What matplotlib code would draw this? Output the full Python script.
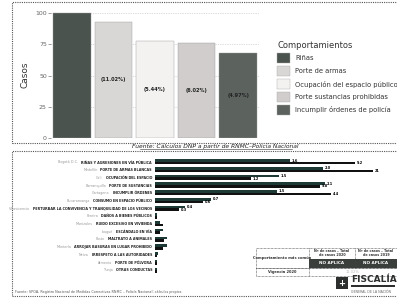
import matplotlib.pyplot as plt
from matplotlib.patches import Rectangle
import numpy as np

# --- upper chart data ---
comportamientos = ['Riñas', 'Porte de armas', 'Ocupación del espacio público',
                   'Porte sustancias prohibidas', 'Incumplir órdenes de policía']
casos = [100, 93, 78, 76, 68]
porcentajes = ['', '(11.02%)', '(5.44%)', '(6.02%)', '(4.97%)']
colores = ['#4b534e', '#d9d7d6', '#f4f2f1', '#d0cdcc', '#5c625e']
yticks = [0, 25, 50, 75, 100]

# --- lower chart data ---
lugares = ['Bogotá D.C.', 'Medellín', 'Cali', 'Barranquilla', 'Cartagena',
           'Bucaramanga', 'Villavicencio', 'Pereira', 'Manizales', 'Ibagué',
           'Pasto', 'Montería', 'Neiva', 'Armenia', 'Tunja']
conductas = ['RIÑAS Y AGRESIONES EN VÍA PÚBLICA', 'PORTE DE ARMAS BLANCAS',
             'OCUPACIÓN DEL ESPACIO', 'PORTE DE SUSTANCIAS',
             'INCUMPLIR ÓRDENES', 'CONSUMO EN ESPACIO PÚBLICO',
             'PERTURBAR LA CONVIVENCIA Y TRANQUILIDAD DE LOS VECINOS',
             'DAÑOS A BIENES PÚBLICOS', 'RUIDO EXCESIVO EN VIVIENDA',
             'ESCÁNDALO EN VÍA', 'MALTRATO A ANIMALES', 'ARROJAR BASURAS EN LUGAR PROHIBIDO',
             'IRRESPETO A LAS AUTORIDADES', 'PORTE DE PÓLVORA', 'OTRAS CONDUCTAS']
serie_a = [135, 168, 124, 170, 122, 56, 30, 2, 5, 8, 12, 12, 3, 2, 2]
serie_b = [200, 218, 96, 165, 176, 48, 24, 2, 8, 5, 9, 8, 2, 2, 2]
etq_a = ['1.6', '2.0', '1.5', '2.1', '1.5', '0.7', '0.4', '', '', '', '', '', '', '', '']
etq_b = ['9.2', '21', '1.2', '9.8', '4.4', '0.6', '0.3', '', '', '', '', '', '', '', '']

W, H = 397, 301
fig = plt.figure(figsize=(W / 100, H / 100), dpi=100)
fig.patch.set_facecolor('white')


def box(x0, y0, x1, y1, **kw):
    fig.patches.append(Rectangle((x0 / W, 1 - y1 / H), (x1 - x0) / W, (y1 - y0) / H,
                                 transform=fig.transFigure, fill=False, **kw))


def fx(x):
    return x / W


def fy(y):
    return 1 - y / H


# outer frames
box(12, 2, 398, 143, lw=0.8, ls=(0, (1, 1)), ec='#555555')
box(12, 151, 398, 296, lw=0.8, ls=(0, (1, 1)), ec='#555555')

# ---------------- upper chart ----------------
ax = fig.add_axes([fx(51), fy(138), fx(259) - fx(51), fy(12) - fy(138)])
x = np.arange(len(casos))
ax.bar(x, casos, width=0.9, color=colores, edgecolor='#9a9a9a', linewidth=0.3, zorder=2)
for xi, v, p in zip(x, casos, porcentajes):
    if p:
        ax.text(xi, v / 2, p, ha='center', va='center', fontsize=3.6,
                fontweight='bold', color='#222222')
ax.set_xlim(-0.5, 4.5)
ax.set_ylim(0, 101)
ax.set_yticks(yticks)
ax.set_yticklabels([str(t) for t in yticks], fontsize=4.5, color='#666666')
ax.set_xticks([])
ax.tick_params(axis='y', length=2, width=0.5, color='#777777', pad=1)
ax.grid(axis='y', color='#bbbbbb', lw=0.5, ls=(0, (1, 1.5)), zorder=0)
for s in ax.spines.values():
    s.set_visible(False)
ax.set_ylabel('Casos', fontsize=6.5, color='#333333', labelpad=4)

# legend
fig.text(fx(277), fy(45), 'Comportamientos', fontsize=6, color='#333333', va='center')
for i, (lab, c) in enumerate(zip(comportamientos, colores)):
    yc = 58 + i * 13
    fig.patches.append(Rectangle((fx(277), fy(yc + 5)), 13 / W, 10 / H,
                                 transform=fig.transFigure, fc=c, ec='#aaaaaa', lw=0.3))
    fig.text(fx(295), fy(yc), lab, fontsize=4.9, color='#333333', va='center')

# source
fig.text(fx(215), fy(146.5), 'Fuente: Cálculos DNP a partir de RNMC–Policía Nacional',
         fontsize=4.3, style='italic', ha='center', va='center', color='#222222')
fig.lines.append(plt.Line2D([fx(140), fx(292)], [fy(149), fy(149)],
                            transform=fig.transFigure, lw=0.4, color='#333333'))

# ---------------- lower chart ----------------
ax2 = fig.add_axes([fx(155), fy(274), fx(385) - fx(155), fy(158) - fy(274)])
n = len(lugares)
y = np.arange(n)
ax2.barh(y - 0.17, serie_a, height=0.34, color='#1e3a37')
ax2.barh(y + 0.17, serie_b, height=0.34, color='#111111')
for yi, a, b, ea, eb in zip(y, serie_a, serie_b, etq_a, etq_b):
    if ea:
        ax2.text(a + 2, yi - 0.17, ea, fontsize=2.5, va='center', fontweight='bold')
    if eb:
        ax2.text(b + 2, yi + 0.17, eb, fontsize=2.5, va='center', fontweight='bold')
ax2.set_xlim(0, 230)
ax2.set_ylim(n - 0.5, -0.5)
ax2.axis('off')

renderer = fig.canvas.get_renderer()
for yi, (lug, con) in enumerate(zip(lugares, conductas)):
    yp = 162.5 + yi * 7.7
    t = fig.text(fx(152), fy(yp), con, fontsize=2.4, fontweight='bold', ha='right',
                 va='center', color='#222222')
    bb = t.get_window_extent(renderer)
    fig.text(fx(bb.x0 - 3), fy(yp), lug, fontsize=2.4, ha='right',
             va='center', color='#999999')

# table (bottom right)
box(256, 248, 398, 268, lw=0.5, ls=(0, (1, 1)), ec='#444444')
box(256, 268, 398, 276, lw=0.5, ls=(0, (1, 1)), ec='#444444')
fig.lines.append(plt.Line2D([fx(309), fx(309)], [fy(248), fy(276)],
                            transform=fig.transFigure, lw=0.5, ls=(0, (1, 1)), color='#444444'))
fig.lines.append(plt.Line2D([fx(355), fx(355)], [fy(248), fy(268)],
                            transform=fig.transFigure, lw=0.5, ls=(0, (1, 1)), color='#444444'))
fig.patches.append(Rectangle((fx(309), fy(268)), (398 - 309) / W, 9 / H,
                             transform=fig.transFigure, fc='#3a3f3c', ec='none'))
fig.text(fx(282), fy(258), 'Comportamiento más común', fontsize=2.6, ha='center',
         va='center', fontweight='bold', color='#333333')
fig.text(fx(332), fy(253), 'Nº de casos – Total\nde casos 2020', fontsize=2.4,
         ha='center', va='center', fontweight='bold', color='#333333')
fig.text(fx(376), fy(253), 'Nº de casos – Total\nde casos 2019', fontsize=2.4,
         ha='center', va='center', fontweight='bold', color='#333333')
fig.text(fx(332), fy(263.5), 'NO APLICA', fontsize=3, ha='center', va='center',
         fontweight='bold', color='white')
fig.text(fx(376), fy(263.5), 'NO APLICA', fontsize=3, ha='center', va='center',
         fontweight='bold', color='white')
fig.text(fx(282), fy(272), 'Vigencia 2020', fontsize=2.6, ha='center', va='center',
         fontweight='bold', color='#333333')
fig.text(fx(353), fy(272), '11.02%', fontsize=2.6, ha='center', va='center', color='#bbbbbb')

# logo
fig.patches.append(Rectangle((fx(336), fy(289)), 12 / W, 12 / H,
                             transform=fig.transFigure, fc='#2c2f2e', ec='none'))
fig.text(fx(342), fy(283), '+', fontsize=6, ha='center', va='center',
         fontweight='bold', color='white')
fig.text(fx(351), fy(280), 'FISCALÍA', fontsize=6.5, fontweight='bold',
         va='center', color='#2c2f2e')
fig.patches.append(Rectangle((fx(351), fy(287)), 44 / W, 2.5 / H,
                             transform=fig.transFigure, fc='#2c2f2e', ec='none'))
fig.text(fx(351), fy(292), 'GENERAL DE LA NACIÓN', fontsize=2.3, va='center', color='#666666')

# footnote
fig.text(fx(15), fy(292.5), 'Fuente: SPOA, Registro Nacional de Medidas Correctivas '
         'RNMC – Policía Nacional; cálculos propios.',
         fontsize=2.4, va='center', color='#555555')

fig.savefig('out.png', dpi=100, facecolor='white')
